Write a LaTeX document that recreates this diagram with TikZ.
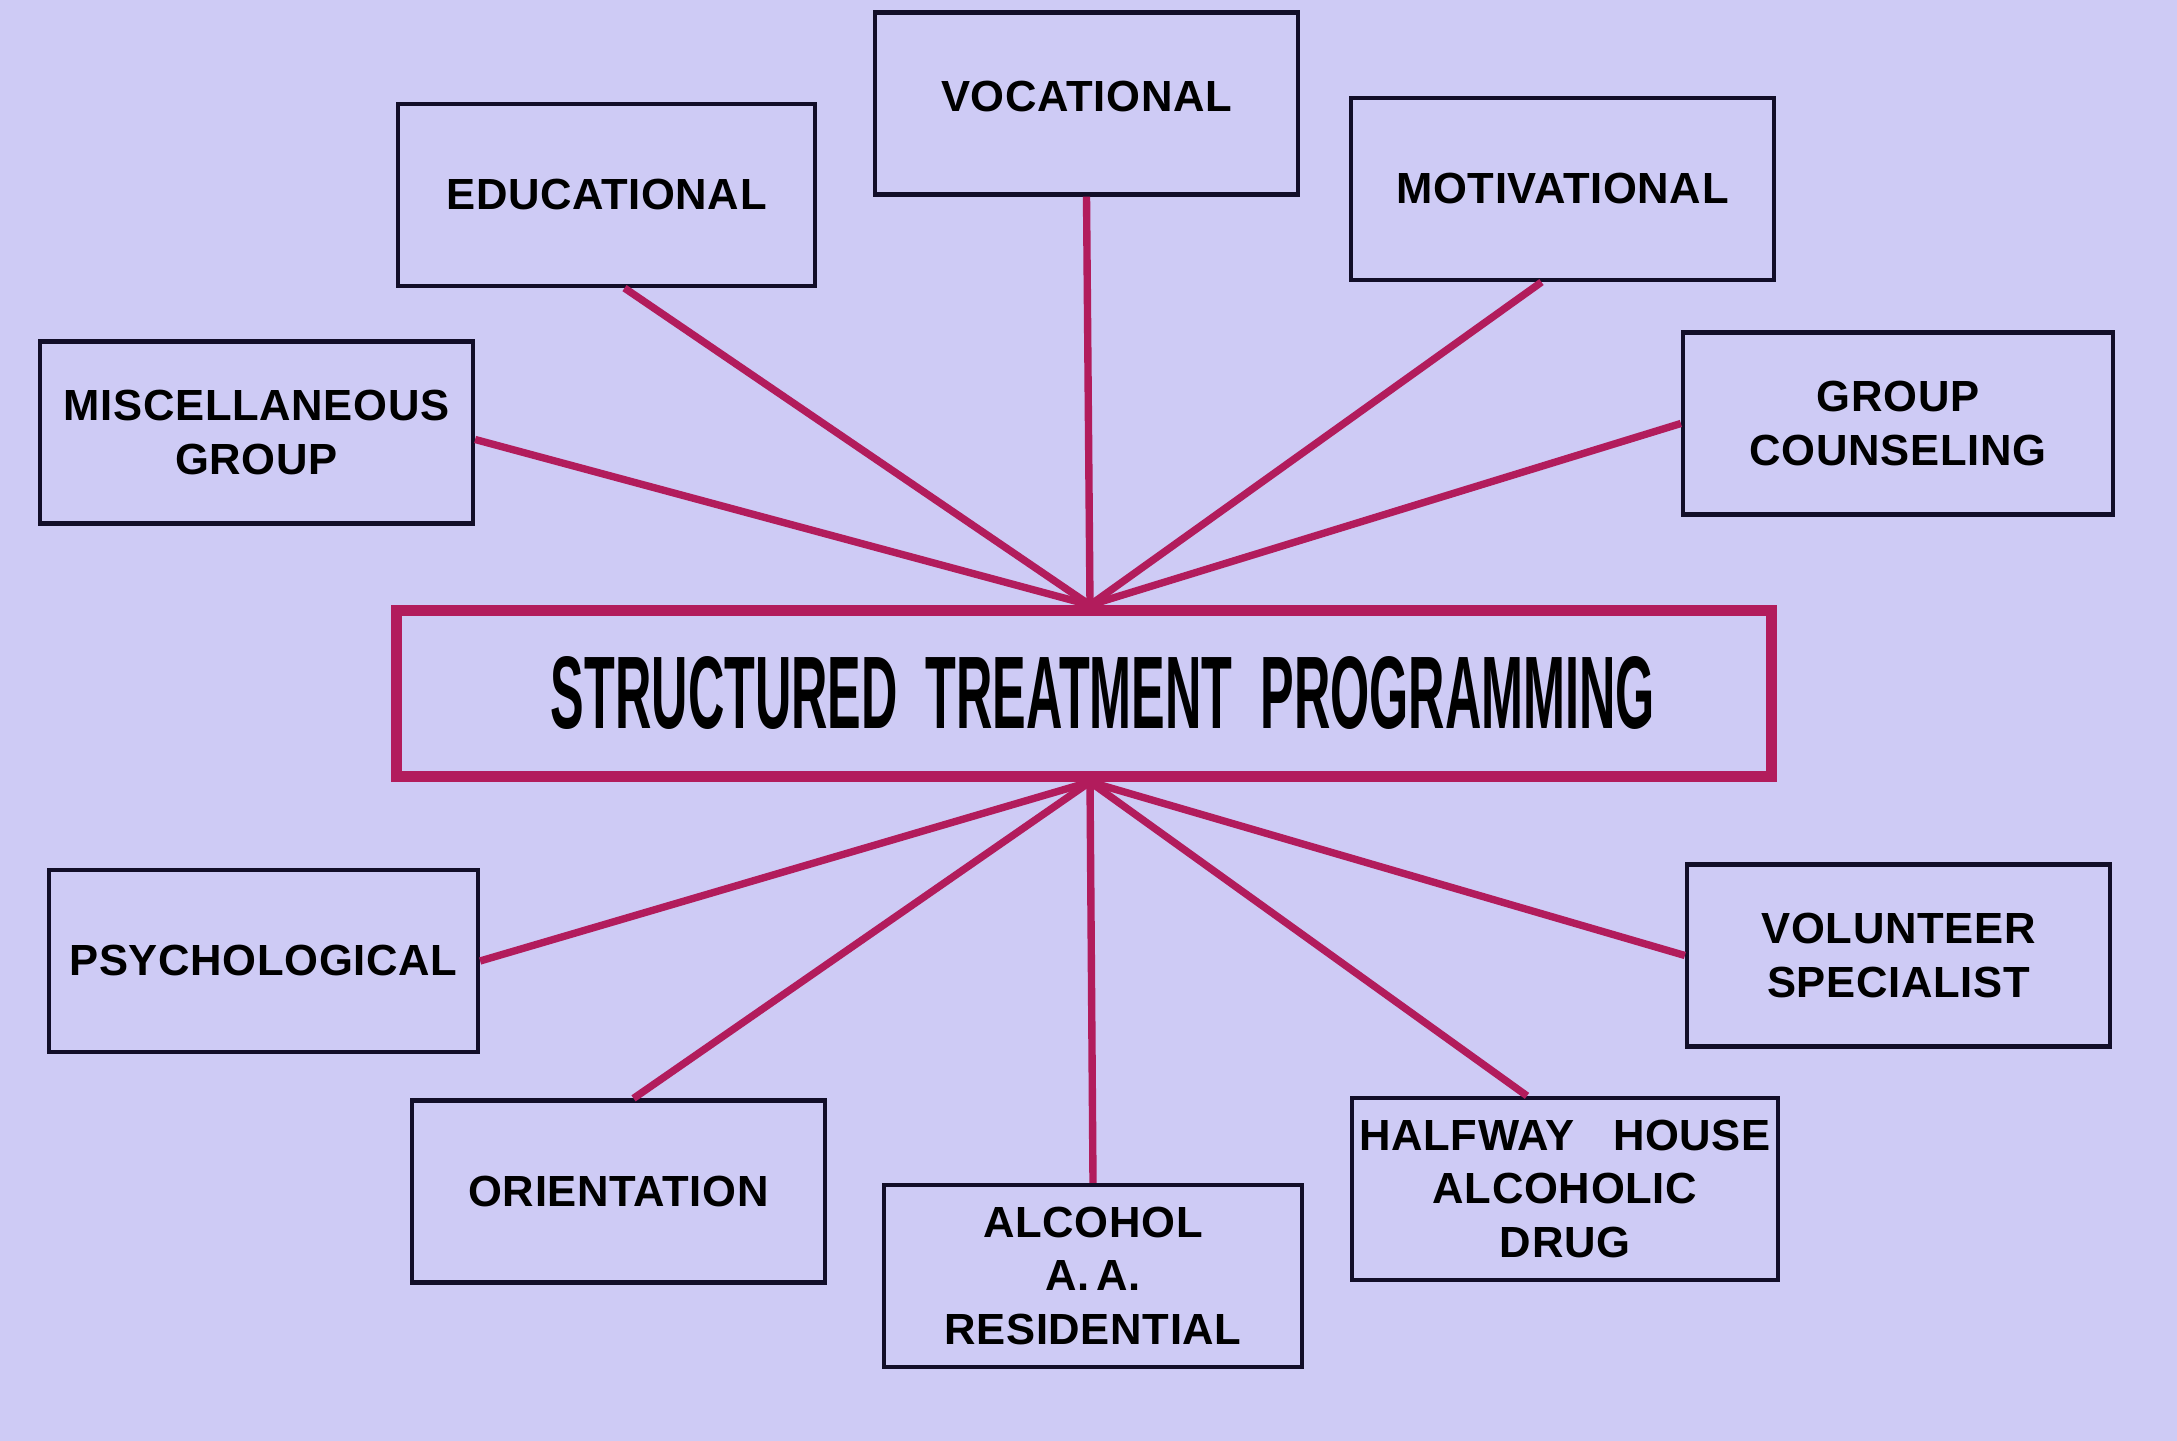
\documentclass[tikz,border=0pt]{standalone}
\usepackage{fontspec}
\setmainfont{Liberation Sans}
\newfontfamily\boxfont[LetterSpace=1.5]{Liberation Sans}
\usepackage{graphicx}
\usetikzlibrary{positioning,calc}

\definecolor{slide}{RGB}{206,203,245}
\definecolor{spoke}{RGB}{178,28,92}
\definecolor{ink}{RGB}{18,14,40}

\begin{document}
\begin{tikzpicture}[
    box/.style={rectangle, draw=ink, line width=1.2pt, minimum height=1.82cm, align=center, inner sep=2pt, font=\boxfont\fontsize{12.4}{15.2}\selectfont\bfseries},
    core/.style={rectangle, draw=spoke, line width=3.1pt, minimum width=13.75cm, minimum height=1.66cm, inner sep=0pt},
    link/.style={draw=spoke, line width=2.1pt}
]

% Slide background
\fill[slide] (0,0) rectangle (21.77,14.41);
\useasboundingbox (0,0) rectangle (21.77,14.41);

% Central box
\node[core] (stp) at (10.84,7.475) {\hspace*{0.38cm}\resizebox{11.04cm}{0.72cm}{\bfseries STRUCTURED\ \ TREATMENT\ \ PROGRAMMING}};
\coordinate (hubtop) at ([xshift=0.6mm]stp.north);
\coordinate (hubbot) at ([xshift=0.6mm]stp.south);

% Upper ring
\node[box, minimum width=4.17cm] (edu) at (6.065,12.46) {EDUCATIONAL};
\node[box, minimum width=4.23cm] (voc) at (10.865,13.375) {\raisebox{1.4mm}{VOCATIONAL}};
\node[box, minimum width=4.23cm] (mot) at (15.625,12.52) {MOTIVATIONAL};
\node[box, minimum width=4.33cm] (misc) at (2.565,10.085) {MISCELLANEOUS\\GROUP};
\node[box, minimum width=4.30cm] (grpc) at (18.98,10.175) {GROUP\\COUNSELING};

% Lower ring
\node[box, minimum width=4.29cm] (psy) at (2.635,4.80) {PSYCHOLOGICAL};
\node[box, minimum width=4.23cm] (vol) at (18.985,4.855) {VOLUNTEER\\SPECIALIST};
\node[box, minimum width=4.13cm] (ori) at (6.185,2.495) {ORIENTATION};
\node[box, minimum width=4.18cm] (alc) at (10.93,1.65) {ALCOHOL\\A.\,A.\\RESIDENTIAL};
\node[box, minimum width=4.24cm] (half) at (15.65,2.52) {HALFWAY\ \ \ HOUSE\\ALCOHOLIC\\DRUG};

% Spokes - top
\draw[link] (hubtop) -- ([xshift=1.8mm]edu.south);
\draw[link] (hubtop) -- (voc.south);
\draw[link] (hubtop) -- ([xshift=-2.1mm]mot.south);
\draw[link] (hubtop) -- ([yshift=-0.7mm]misc.east);
\draw[link] (hubtop) -- (grpc.west);

% Spokes - bottom
\draw[link] (hubbot) -- (psy.east);
\draw[link] (hubbot) -- ([xshift=1.5mm]ori.north);
\draw[link] (hubbot) -- (alc.north);
\draw[link] (hubbot) -- ([xshift=-3.8mm]half.north);
\draw[link] (hubbot) -- (vol.west);

\end{tikzpicture}
\end{document}
